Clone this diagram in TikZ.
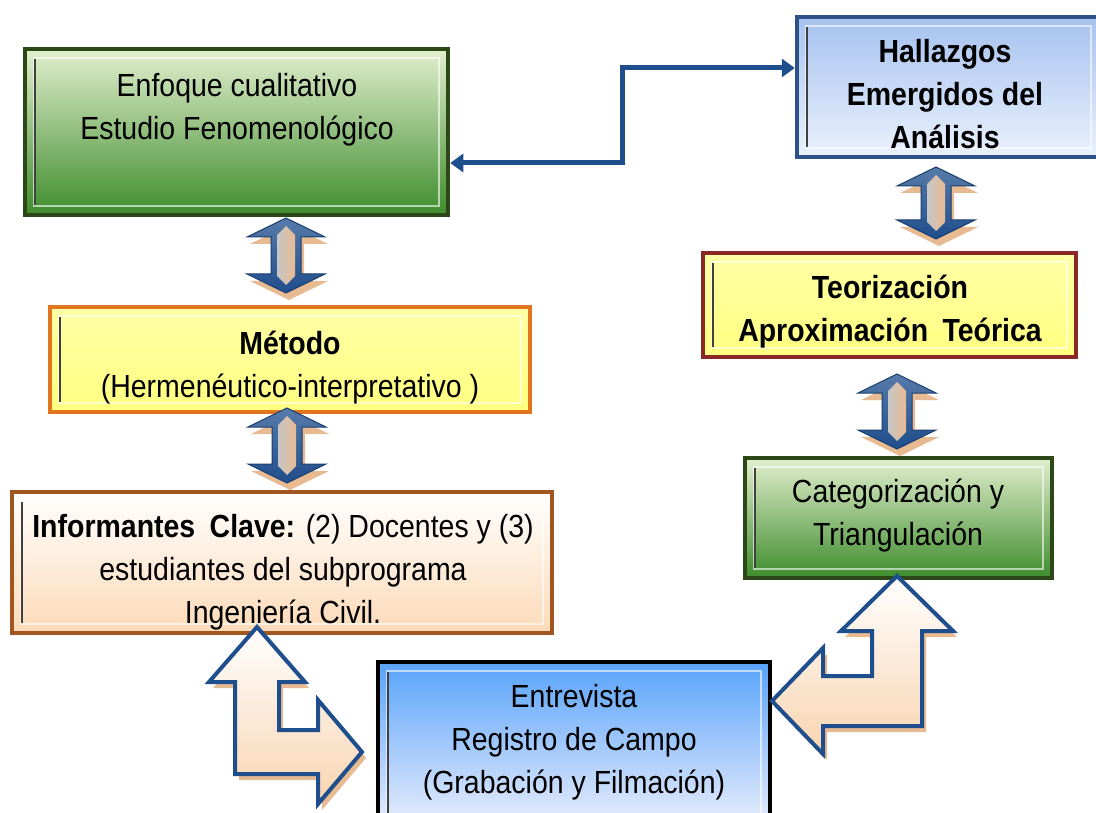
\documentclass[tikz,border=0pt]{standalone}
\usepackage{fontspec}
\setmainfont{Liberation Sans}[FakeStretch=0.89]
\usetikzlibrary{arrows.meta,calc}

% palette
\definecolor{greenTop}{RGB}{226,239,206}
\definecolor{greenMid}{RGB}{178,208,138}
\definecolor{greenBot}{RGB}{62,140,44}
\definecolor{greenEdge}{RGB}{44,72,22}
\definecolor{yellowFill}{RGB}{255,255,128}
\definecolor{orangeEdge}{RGB}{226,118,30}
\definecolor{redEdge}{RGB}{138,40,40}
\definecolor{peachBot}{RGB}{252,218,184}
\definecolor{brownEdge}{RGB}{160,86,30}
\definecolor{skyTop}{RGB}{88,163,250}
\definecolor{skyBot}{RGB}{238,240,252}
\definecolor{paleTop}{RGB}{166,194,240}
\definecolor{paleBot}{RGB}{234,241,252}
\definecolor{navyEdge}{RGB}{44,82,135}
\definecolor{linkBlue}{RGB}{31,78,140}
\definecolor{tanShade}{RGB}{232,186,146}
\definecolor{peach}{RGB}{248,212,176}

\tikzset{
  % bevelled box
  bbox/.style={rectangle, inner sep=0pt, line width=4.5pt, path picture={
      \draw[white, opacity=.6, line width=2.5pt]
        ([shift={(9pt,-9pt)}]path picture bounding box.north west) rectangle
        ([shift={(-9pt,9pt)}]path picture bounding box.south east);
      \draw[black!75, line width=2.5pt]
        ([shift={(10pt,-10pt)}]path picture bounding box.north west) --
        ([shift={(10pt,10pt)}]path picture bounding box.south west);
    }},
  greenbox/.style={bbox, draw=greenEdge, top color=greenTop, middle color=greenMid, bottom color=greenBot},
  yellowbox/.style={bbox, top color=yellowFill!70!white, bottom color=yellowFill},
  txt/.style={align=center, inner sep=0pt, font=\fontsize{32}{43}\selectfont},
  btxt/.style={txt, font=\fontsize{32}{43}\selectfont\bfseries},
  link/.style={draw=linkBlue, line width=5pt, {Triangle[length=13pt,width=18pt]}-{Triangle[length=13pt,width=18pt]}},
  fatfill/.style={draw=linkBlue, line width=4pt, line join=miter, top color=white, bottom color=peach},
  % vertical double-headed block arrow, #1 = length
  pics/vdbl/.style={code={
      \fill[tanShade] (3,7) -- (42,26) -- (18,26) -- (18,{#1-12}) -- (42,{#1-12}) -- (3,{#1+7})
        -- (-36,{#1-12}) -- (-12,{#1-12}) -- (-12,26) -- (-36,26) -- cycle;
      \path[draw=linkBlue!80!black, line width=1pt, top color=linkBlue!75, bottom color=linkBlue]
        (0,0) -- (39,19) -- (15,19) -- (15,{#1-19}) -- (39,{#1-19}) -- (0,#1)
        -- (-39,{#1-19}) -- (-15,{#1-19}) -- (-15,19) -- (-39,19) -- cycle;
      \path[left color=gray!45, middle color=white, right color=tanShade]
        (0,8) -- (9,17) -- (9,{#1-17}) -- (0,{#1-8}) -- (-9,{#1-17}) -- (-9,17) -- cycle;
    }},
}

\begin{document}
\begin{tikzpicture}[x=1pt, y=-1pt]
\useasboundingbox (0,0) rectangle (1096,813);

% boxes
\node[greenbox, minimum width=423pt, minimum height=166pt] (enfoque) at (236.5,132) {};
\node[yellowbox, draw=orangeEdge, minimum width=480pt, minimum height=105pt] (metodo) at (290,359.5) {};
\node[bbox, draw=brownEdge, top color=white, bottom color=peachBot, minimum width=540pt, minimum height=141pt] (inform) at (282,562.5) {};
\node[bbox, draw=black, top color=skyTop, bottom color=skyBot, minimum width=392pt, minimum height=170pt] (entrev) at (574,747) {};
\node[greenbox, minimum width=307pt, minimum height=120pt] (categ) at (898.5,518) {};
\node[yellowbox, draw=redEdge, minimum width=373pt, minimum height=104pt] (teoria) at (889.5,305) {};
\node[bbox, draw=navyEdge, top color=paleTop, bottom color=paleBot, minimum width=303pt, minimum height=140pt] (hallaz) at (948.5,87) {};

% block arrows between boxes
\pic at (286,218) {vdbl=75};
\pic at (287,408) {vdbl=75};
\pic at (897,374) {vdbl=75};
\pic at (936,167) {vdbl=72};

% bent arrow: informants <-> interview
\fill[tanShade] (261,633) -- (309,688) -- (283,688) -- (283,736) -- (322,736) -- (322,706) -- (366,758)
  -- (322,810) -- (322,780) -- (239,780) -- (239,688) -- (213,688) -- cycle;
\path[fatfill] (257,627) -- (305,682) -- (279,682) -- (279,730) -- (318,730) -- (318,700) -- (362,752)
  -- (318,804) -- (318,774) -- (235,774) -- (235,682) -- (209,682) -- cycle;

% bent arrow: interview <-> categorisation
\fill[tanShade] (901,582) -- (957,637) -- (926,637) -- (926,732) -- (827,732) -- (827,760) -- (776,707)
  -- (827,654) -- (827,682) -- (876,682) -- (876,637) -- (845,637) -- cycle;
\path[fatfill] (897,576) -- (953,631) -- (922,631) -- (922,726) -- (823,726) -- (823,754) -- (772,701)
  -- (823,648) -- (823,676) -- (872,676) -- (872,631) -- (841,631) -- cycle;

% texts
\node[txt] (t-enfoque) at (237,110) {Enfoque cualitativo\\Estudio Fenomenológico};
\node[txt] (t-metodo) at (290,368) {\textbf{Método}\\(Hermenéutico-interpretativo )};
\node[txt] (t-inform) at (283,572) {\textbf{Informantes\hspace{0.45em}Clave:} (2) Docentes y (3)\\estudiantes del subprograma\\Ingeniería Civil.};
\node[txt] (t-entrev) at (574,742) {Entrevista\\Registro de Campo\\(Grabación y Filmación)};
\node[txt] (t-categ) at (898,516) {Categorización y\\Triangulación};
\node[btxt] (t-teoria) at (890,312) {Teorización\\Aproximación\hspace{0.45em}Teórica};
\node[btxt] (t-hallaz) at (945,94) {Hallazgos\\Emergidos del\\Análisis};

% elbow link between the approach box and the findings box
\draw[link] ([yshift=-31pt]enfoque.east) -| (622,115) |- ([yshift=19pt]hallaz.west);
\end{tikzpicture}
\end{document}
